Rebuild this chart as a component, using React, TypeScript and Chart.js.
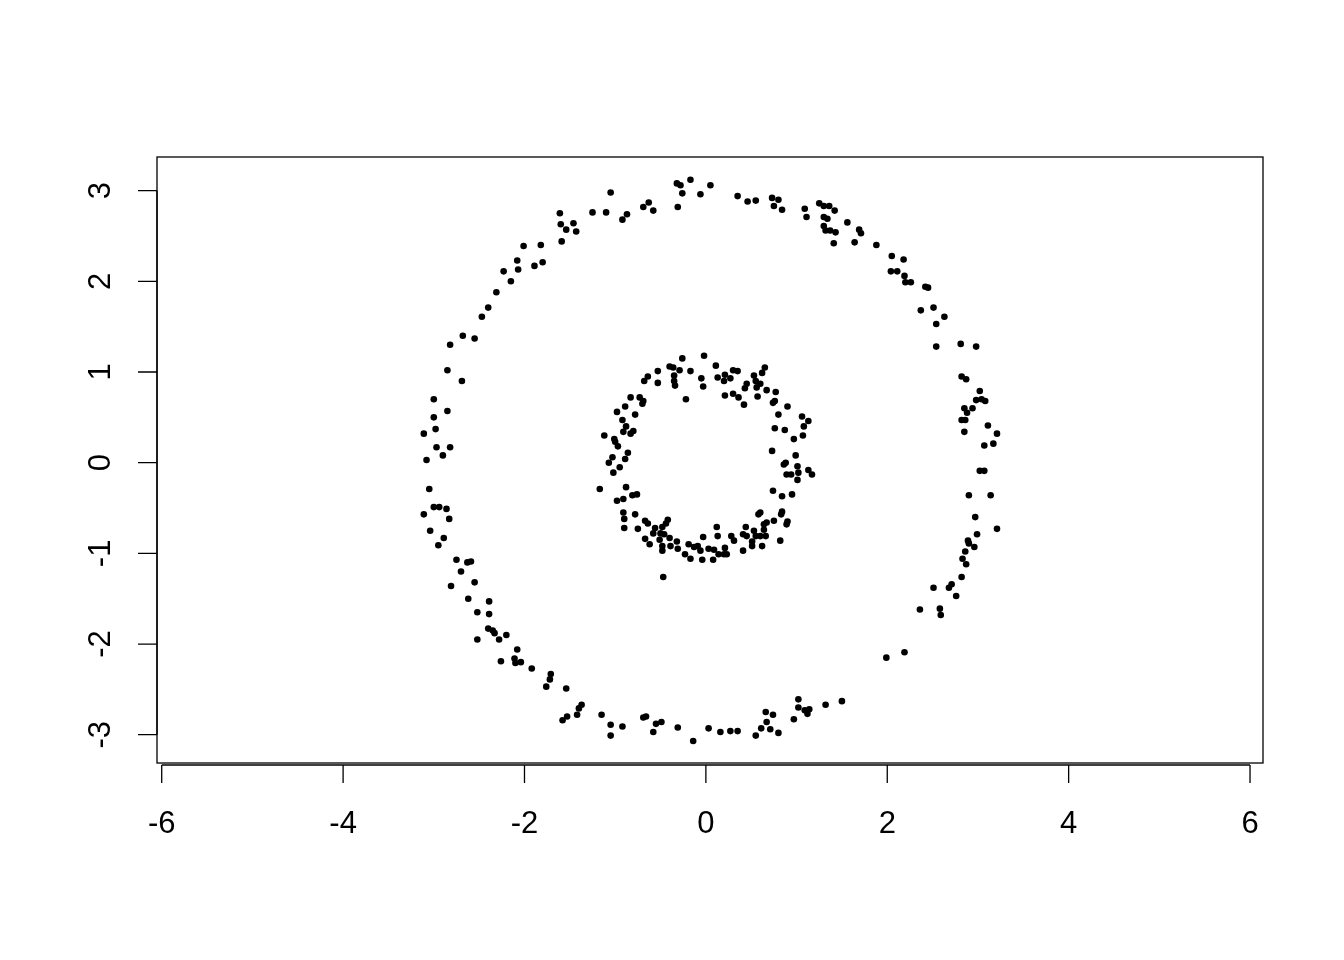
import React, { useEffect, useRef } from "react";
import { Chart, registerables } from "chart.js";

Chart.register(...registerables);

// Inner ring points [x, y]
const innerRing: number[][] = [
  [-0.02, 1.18], [-0.26, 1.15], [0.11, 1.07], [-0.40, 1.06], [-0.36, 1.05], [-0.29, 1.02],
  [-0.17, 1.01], [-0.53, 1.01], [0.30, 1.02], [0.35, 1.01], [0.65, 1.05], [0.62, 0.99],
  [-0.64, 0.95], [-0.35, 0.96], [-0.05, 0.93], [0.13, 0.94], [0.21, 0.97], [0.27, 0.93],
  [0.53, 0.96], [-0.68, 0.90], [-0.53, 0.88], [-0.35, 0.90], [-0.34, 0.85], [-0.03, 0.84],
  [0.20, 0.90], [0.45, 0.87], [0.43, 0.82], [0.55, 0.90], [0.60, 0.87], [0.56, 0.83],
  [0.67, 0.80], [0.77, 0.78], [0.21, 0.74], [0.30, 0.76], [0.36, 0.72], [0.57, 0.73],
  [-0.22, 0.70], [-0.83, 0.72], [-0.73, 0.72], [-0.69, 0.68], [-0.70, 0.65], [0.76, 0.68],
  [0.74, 0.66], [0.42, 0.64], [0.90, 0.62], [-0.89, 0.62], [-0.98, 0.56], [-0.78, 0.53],
  [0.80, 0.53], [1.06, 0.51], [1.13, 0.46], [-0.92, 0.47], [-0.88, 0.40], [-0.91, 0.34],
  [-0.83, 0.32], [-0.80, 0.35], [0.76, 0.38], [0.87, 0.36], [1.08, 0.40], [1.07, 0.30],
  [0.97, 0.26], [-1.12, 0.30], [-1.01, 0.26], [-1.00, 0.23], [-0.97, 0.18], [0.73, 0.13],
  [-0.86, 0.11], [-1.03, 0.06], [-0.89, 0.04], [0.99, 0.08], [0.88, 0.00], [-1.07, 0.00],
  [0.86, -0.02], [1.01, -0.04], [0.89, -0.13], [0.94, -0.13], [1.02, -0.11], [1.13, -0.08],
  [1.17, -0.13], [1.01, -0.19], [-1.02, -0.11], [-0.95, -0.05], [-1.17, -0.29], [-0.88, -0.27],
  [-0.98, -0.42], [-0.91, -0.40], [-0.81, -0.36], [-0.76, -0.35], [0.74, -0.31], [0.84, -0.37],
  [0.95, -0.35], [-0.91, -0.55], [-0.78, -0.57], [-0.90, -0.62], [-0.90, -0.72], [-0.75, -0.73],
  [-0.67, -0.64], [-0.64, -0.67], [-0.42, -0.63], [-0.44, -0.67], [-0.56, -0.72], [-0.48, -0.71],
  [-0.58, -0.78], [-0.50, -0.78], [-0.46, -0.79], [-0.67, -0.84], [-0.62, -0.90], [-0.51, -0.85],
  [-0.48, -0.92], [-0.40, -0.83], [-0.48, -0.97], [-0.39, -0.92], [-0.32, -0.87], [-0.31, -0.95],
  [-0.23, -1.01], [-0.19, -0.90], [-0.17, -1.06], [-0.13, -0.93], [-0.09, -0.92], [-0.06, -0.97],
  [-0.04, -1.07], [-0.03, -0.82], [0.03, -0.95], [0.08, -1.07], [0.09, -0.96], [0.12, -0.71],
  [0.13, -0.81], [0.14, -1.01], [0.20, -1.01], [0.21, -0.94], [0.23, -1.01], [0.28, -0.81],
  [0.31, -0.86], [0.41, -0.97], [0.44, -0.71], [0.41, -0.79], [0.45, -0.81], [0.53, -0.75],
  [0.51, -0.87], [0.55, -0.81], [0.60, -0.81], [0.62, -0.92], [0.51, -0.92], [0.64, -0.68],
  [0.64, -0.74], [0.58, -0.57], [0.60, -0.55], [0.67, -0.66], [0.75, -0.64], [0.84, -0.54],
  [0.83, -0.57], [0.90, -0.65], [0.89, -0.68], [0.82, -0.86], [0.66, -0.81], [-0.47, -1.26],
];

// Outer ring points [x, y]
const outerRing: number[][] = [
  [-0.17, 3.12], [-0.32, 3.08], [-0.28, 3.06], [0.05, 3.06], [-0.26, 2.97], [-0.06, 2.96],
  [-0.31, 2.82], [-1.05, 2.98], [-0.63, 2.87], [-0.69, 2.82], [-0.58, 2.78], [-0.87, 2.74],
  [-0.92, 2.68], [-1.25, 2.76], [-1.10, 2.76], [-1.61, 2.75], [-1.46, 2.64], [-1.60, 2.63],
  [-1.54, 2.57], [-1.43, 2.55], [-1.59, 2.44], [-2.01, 2.39], [-1.82, 2.40], [-2.08, 2.23],
  [-1.80, 2.21], [-1.89, 2.17], [-2.23, 2.11], [-2.07, 2.13], [-2.15, 2.00], [-2.31, 1.88],
  [-2.40, 1.71], [-2.47, 1.61],
  [0.35, 2.94], [0.46, 2.88], [0.55, 2.89], [0.73, 2.92], [0.80, 2.90], [0.75, 2.83],
  [0.84, 2.79], [1.09, 2.80], [1.11, 2.71], [1.25, 2.86], [1.30, 2.83], [1.36, 2.83],
  [1.42, 2.78], [1.30, 2.71], [1.34, 2.69], [1.30, 2.61], [1.32, 2.56], [1.37, 2.56],
  [1.43, 2.54], [1.41, 2.42], [1.56, 2.65], [1.69, 2.57], [1.71, 2.53], [1.64, 2.43],
  [1.88, 2.40], [2.05, 2.28], [2.18, 2.24], [2.04, 2.11], [2.11, 2.11], [2.19, 2.06],
  [2.20, 1.99], [2.26, 1.99], [2.42, 1.94], [2.45, 1.93], [2.37, 1.68], [2.51, 1.71],
  [2.63, 1.61],
  [-2.68, 1.40], [-2.55, 1.37], [-2.82, 1.30], [-2.85, 1.02], [-2.69, 0.90], [-3.00, 0.70],
  [-2.85, 0.57], [-3.00, 0.50], [-2.98, 0.37], [-3.11, 0.32], [-2.97, 0.17], [-2.82, 0.17],
  [-2.90, 0.08], [-3.08, 0.03], [-3.05, -0.29], [-3.00, -0.49], [-2.94, -0.49], [-2.86, -0.51],
  [-3.11, -0.57], [-2.83, -0.62], [-3.04, -0.75], [-2.89, -0.83], [-2.95, -0.91], [-2.75, -1.07],
  [-2.63, -1.10], [-2.59, -1.09], [-2.70, -1.20], [-2.81, -1.36], [-2.55, -1.32], [-2.62, -1.50],
  [-2.39, -1.53], [-2.52, -1.65], [-2.39, -1.67],
  [2.54, 1.53], [2.54, 1.28], [2.81, 1.31], [2.98, 1.28], [2.82, 0.95], [2.87, 0.92],
  [3.02, 0.79], [2.98, 0.69], [3.04, 0.70], [3.08, 0.68], [2.85, 0.60], [2.94, 0.60],
  [2.88, 0.55], [2.82, 0.47], [2.86, 0.47], [2.85, 0.34], [3.11, 0.41], [3.21, 0.32],
  [3.07, 0.19], [3.17, 0.21], [3.02, -0.09], [3.07, -0.09], [2.90, -0.36], [3.14, -0.36],
  [2.97, -0.60], [3.21, -0.73], [2.99, -0.79], [2.89, -0.86], [2.90, -0.89], [2.96, -0.93],
  [2.86, -0.98], [2.83, -1.06], [2.87, -1.12], [2.82, -1.26], [2.51, -1.38], [2.68, -1.38],
  [2.71, -1.34], [2.76, -1.47], [2.36, -1.62], [2.58, -1.61], [2.59, -1.68],
  [-2.40, -1.83], [-2.35, -1.85], [-2.33, -1.88], [-2.52, -1.95], [-2.28, -1.95], [-2.20, -1.90],
  [-2.08, -2.06], [-2.26, -2.19], [-2.11, -2.16], [-2.10, -2.21], [-2.04, -2.20], [-1.92, -2.27],
  [-1.71, -2.33], [-1.72, -2.39], [-1.76, -2.47], [-1.54, -2.49], [-1.37, -2.67], [-1.40, -2.71],
  [-1.53, -2.80], [-1.58, -2.84], [-1.42, -2.78], [-1.15, -2.78], [-1.05, -2.89], [-1.05, -3.01],
  [-0.92, -2.91], [-0.69, -2.81], [-0.66, -2.80], [-0.55, -2.88], [-0.49, -2.86], [-0.58, -2.97],
  [-0.31, -2.92], [-0.14, -3.07], [0.03, -2.93],
  [0.16, -2.97], [0.27, -2.96], [0.35, -2.96], [0.55, -3.01], [0.61, -2.93], [0.67, -2.86],
  [0.66, -2.75], [0.74, -2.78], [0.71, -2.94], [0.80, -2.98], [0.97, -2.83], [1.02, -2.61],
  [1.02, -2.70], [1.09, -2.73], [1.14, -2.72], [1.12, -2.77], [1.32, -2.67], [1.50, -2.63],
  [1.99, -2.15], [2.19, -2.09],
];

const xTicks = [-6, -4, -2, 0, 2, 4, 6];
const yTicks = [-3, -2, -1, 0, 1, 2, 3];
const xRange = [-6.052, 6.143];
const yRange = [-3.312, 3.371];

const FONT = '31px "Liberation Sans", Arial, Helvetica, sans-serif';

const rAxesPlugin = {
  id: "rAxes",
  afterDraw(chart: any) {
    const ctx = chart.ctx as CanvasRenderingContext2D;
    const { left, right, top, bottom } = chart.chartArea;
    const xs = chart.scales.x;
    const ys = chart.scales.y;
    ctx.save();
    ctx.strokeStyle = "#000";
    ctx.fillStyle = "#000";
    ctx.lineWidth = 1.3;
    // box
    ctx.strokeRect(left, top, right - left, bottom - top);
    // x axis
    const xAxisY = bottom + 2;
    ctx.beginPath();
    ctx.moveTo(xs.getPixelForValue(xTicks[0]), xAxisY);
    ctx.lineTo(xs.getPixelForValue(xTicks[xTicks.length - 1]), xAxisY);
    xTicks.forEach((v) => {
      const px = xs.getPixelForValue(v);
      ctx.moveTo(px, xAxisY);
      ctx.lineTo(px, xAxisY + 18);
    });
    ctx.stroke();
    ctx.font = FONT;
    ctx.textAlign = "center";
    ctx.textBaseline = "middle";
    xTicks.forEach((v) => {
      ctx.fillText(String(v), xs.getPixelForValue(v), 824);
    });
    // y axis
    ctx.beginPath();
    ctx.moveTo(left, ys.getPixelForValue(yTicks[0]));
    ctx.lineTo(left, ys.getPixelForValue(yTicks[yTicks.length - 1]));
    yTicks.forEach((v) => {
      const py = ys.getPixelForValue(v);
      ctx.moveTo(left, py);
      ctx.lineTo(left - 19, py);
    });
    ctx.stroke();
    yTicks.forEach((v) => {
      const py = ys.getPixelForValue(v);
      ctx.save();
      ctx.translate(101, py);
      ctx.rotate(-Math.PI / 2);
      ctx.fillText(String(v), 0, 0);
      ctx.restore();
    });
    ctx.restore();
  },
};

export default function App() {
  const ref = useRef<HTMLCanvasElement | null>(null);
  useEffect(() => {
    document.body.style.margin = "0";
    if (!ref.current) return;
    const toPts = (arr: number[][]) => arr.map(([x, y]) => ({ x, y }));
    const chart = new Chart(ref.current, {
      type: "scatter",
      data: {
        datasets: [
          {
            label: "outer",
            data: toPts(outerRing),
            backgroundColor: "#000",
            borderWidth: 0,
            pointRadius: 3.3,
            pointHoverRadius: 3.3,
          },
          {
            label: "inner",
            data: toPts(innerRing),
            backgroundColor: "#000",
            borderWidth: 0,
            pointRadius: 3.3,
            pointHoverRadius: 3.3,
          },
        ],
      },
      options: {
        responsive: false,
        animation: false,
        devicePixelRatio: 1,
        layout: { padding: { left: 157, right: 81, top: 157, bottom: 197 } },
        plugins: { legend: { display: false }, tooltip: { enabled: false } },
        events: [],
        scales: {
          x: { type: "linear", min: xRange[0], max: xRange[1], display: false },
          y: { type: "linear", min: yRange[0], max: yRange[1], display: false },
        },
      },
      plugins: [rAxesPlugin],
    });
    return () => chart.destroy();
  }, []);
  return (
    <div style={{ width: 1344, height: 960, background: "#fff" }}>
      <canvas ref={ref} width={1344} height={960} style={{ display: "block" }} />
    </div>
  );
}
